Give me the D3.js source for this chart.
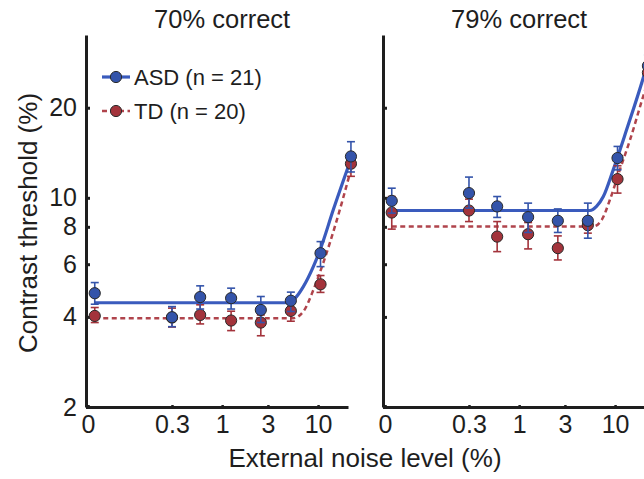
<!DOCTYPE html>
<html>
<head>
<meta charset="utf-8">
<script src="https://cdn.jsdelivr.net/npm/d3@7"></script>
<style>
  html, body { margin: 0; padding: 0; background: #fff; }
  svg { display: block; font-family: "Liberation Sans", Arial, Helvetica, sans-serif; }
</style>
</head>
<body>
<svg id="chart" width="644" height="479"></svg>
<script>
// ---------- data ----------
const panelTitles = ["70% correct", "79% correct"];
const groups = ["ASD (n = 21)", "TD (n = 20)"];
// external noise levels (%); first entry is the "0" noise condition drawn at a nominal log position
const noiseLevels = [0.047, 0.3, 0.59, 1.24, 2.53, 5.2, 10.6, 22];

// 70% correct
const asd70 = [4.80, 3.99, 4.66, 4.62, 4.22, 4.53, 6.53, 13.75];
const asd70Hi = [5.21, 4.33, 5.08, 4.99, 4.68, 4.84, 7.14, 15.4];
const asd70Lo = [4.41, 3.71, 4.25, 4.25, 3.83, 4.17, 5.89, 12.2];
const td70 = [4.03, 3.98, 4.06, 3.89, 3.83, 4.19, 5.14, 13.0];
const td70Hi = [4.30, 4.28, 4.39, 4.18, 4.06, 4.47, 5.50, 14.0];
const td70Lo = [3.83, 3.70, 3.79, 3.60, 3.46, 3.87, 4.83, 11.8];

// 79% correct
const asd79 = [9.77, 10.37, 9.36, 8.62, 8.38, 8.38, 13.58, 27.6];
const asd79Hi = [10.77, 11.73, 10.1, 9.6, 9.18, 9.6, 14.85, 30.0];
const asd79Lo = [8.89, 9.24, 8.6, 7.66, 7.66, 7.33, 12.4, 25.4];
const td79 = [8.93, 9.07, 7.42, 7.56, 6.79, 8.1, 11.55, 26.2];
const td79Hi = [10.1, 9.9, 8.33, 8.27, 7.46, 8.6, 12.8, 28.5];
const td79Lo = [7.86, 8.33, 6.61, 6.75, 6.2, 7.62, 10.37, 24.0];

// model fit curves: [noise, threshold]
const fitAsd70 = [[0.047, 4.46], [4.5, 4.46], [5.75, 4.62], [7.02, 5.05], [8.92, 5.89], [10.5, 6.70], [14.4, 9.12], [21.5, 13.2]];
const fitTd70  = [[0.047, 3.96], [5.47, 3.96], [7.02, 4.17], [8.92, 4.92], [11.3, 6.05], [15.7, 8.44], [21.5, 12.1]];
const fitAsd79 = [[0.047, 9.07], [5.47, 9.07], [6.4, 9.36], [7.54, 10.1], [9.56, 12.4], [13.2, 16.9], [19.6, 25.1], [22, 28.5]];
const fitTd79  = [[0.047, 8.02], [5.9, 8.02], [7.26, 8.44], [8.83, 9.85], [11.2, 12.4], [14.3, 15.6], [19.6, 21.8], [22, 24.5]];

const yTicks = [2, 4, 6, 8, 10, 20];
const yTickLabels = ["2", "4", "6", "8", "10", "20"];
const xTicks = [0.04, 0.3, 1, 3, 10];
const xTickLabels = ["0", "0.3", "1", "3", "10"];

const xTitle = "External noise level (%)";
const yTitle = "Contrast threshold (%)";

// ---------- styling ----------
const colors = { asd: "#3454aa", td: "#a3333b" };
const lineColors = { asd: "#3a5bbd", td: "#b0444c" };
const ink = "#1e1e1e";

const svg = d3.select("#chart");

const y = d3.scaleLog().domain([2, 35]).range([407, 35]);
const panelRanges = [[86, 348], [383, 645]];
const xDomain = [0.0381, 20.5];

const panels = [
  { title: panelTitles[0], asd: [asd70, asd70Lo, asd70Hi], td: [td70, td70Lo, td70Hi], fitA: fitAsd70, fitT: fitTd70, labels: true },
  { title: panelTitles[1], asd: [asd79, asd79Lo, asd79Hi], td: [td79, td79Lo, td79Hi], fitA: fitAsd79, fitT: fitTd79, labels: false }
];

const clip = svg.append("defs").append("clipPath").attr("id", "pageclip")
  .append("rect").attr("x", 0).attr("y", 0).attr("width", 644).attr("height", 479);

panels.forEach((p, i) => {
  const x = d3.scaleLog().domain(xDomain).range(panelRanges[i]);
  const g = svg.append("g").attr("clip-path", "url(#pageclip)");

  // title
  svg.append("text")
    .attr("x", x(1)).attr("y", 28)
    .attr("text-anchor", "middle")
    .attr("font-size", 25.5).attr("fill", ink)
    .text(p.title);

  // y axis
  const yAxis = d3.axisLeft(y).tickValues(yTicks)
    .tickSizeInner(-4).tickSizeOuter(0).tickPadding(9)
    .tickFormat((d, k) => p.labels ? yTickLabels[k] : "");
  const ya = g.append("g").attr("transform", `translate(${panelRanges[i][0]},0)`).call(yAxis);
  ya.select(".domain").attr("stroke", ink).attr("stroke-width", 3);
  ya.selectAll(".tick line").attr("stroke", ink).attr("stroke-width", 3);
  ya.selectAll(".tick text").attr("font-size", 25).attr("fill", ink).attr("font-family", null);

  // x axis
  const xAxis = d3.axisBottom(x).tickValues(xTicks)
    .tickSizeInner(-2).tickSizeOuter(0).tickPadding(8)
    .tickFormat((d, k) => xTickLabels[k]);
  const xa = g.append("g").attr("transform", `translate(0,${y(2)})`).call(xAxis);
  xa.select(".domain").attr("stroke", ink).attr("stroke-width", 3);
  xa.selectAll(".tick line").attr("stroke", ink).attr("stroke-width", 2.5);
  xa.selectAll(".tick text").attr("font-size", 25).attr("fill", ink).attr("font-family", null);

  // fit curves
  const line = d3.line().x(d => x(d[0])).y(d => y(d[1])).curve(d3.curveMonotoneX);
  g.append("path").datum(p.fitT).attr("d", line)
    .attr("fill", "none").attr("stroke", lineColors.td).attr("stroke-width", 2.5)
    .attr("stroke-dasharray", "5,3.5");
  g.append("path").datum(p.fitA).attr("d", line)
    .attr("fill", "none").attr("stroke", lineColors.asd).attr("stroke-width", 3.2);

  // points with error bars
  const drawGroup = (vals, col) => {
    const [m, lo, hi] = vals;
    const data = noiseLevels.map((n, k) => ({ n, m: m[k], lo: lo[k], hi: hi[k] }));
    const eg = g.append("g").attr("stroke", col).attr("stroke-width", 1.6).attr("fill", "none");
    data.forEach(d => {
      const cx = x(d.n);
      eg.append("line").attr("x1", cx).attr("x2", cx).attr("y1", y(d.lo)).attr("y2", y(d.hi));
      eg.append("line").attr("x1", cx - 4).attr("x2", cx + 4).attr("y1", y(d.lo)).attr("y2", y(d.lo));
      eg.append("line").attr("x1", cx - 4).attr("x2", cx + 4).attr("y1", y(d.hi)).attr("y2", y(d.hi));
    });
    g.append("g").selectAll("circle").data(data).join("circle")
      .attr("cx", d => x(d.n)).attr("cy", d => y(d.m)).attr("r", 5.6)
      .attr("fill", col).attr("stroke", "#2a2a2a").attr("stroke-width", 1);
  };
  drawGroup(p.td, colors.td);
  drawGroup(p.asd, colors.asd);
});

// legend
const leg = svg.append("g");
const legendItems = [
  { label: groups[0], col: colors.asd, lc: lineColors.asd, dash: null, w: 3.2, y: 77 },
  { label: groups[1], col: colors.td, lc: lineColors.td, dash: "5,3.5", w: 2.5, y: 111 }
];
legendItems.forEach(it => {
  leg.append("line").attr("x1", 102).attr("x2", 130).attr("y1", it.y).attr("y2", it.y)
    .attr("stroke", it.lc).attr("stroke-width", it.w).attr("stroke-dasharray", it.dash);
  leg.append("circle").attr("cx", 116).attr("cy", it.y).attr("r", 5.6)
    .attr("fill", it.col).attr("stroke", "#2a2a2a").attr("stroke-width", 1);
  leg.append("text").attr("x", 134).attr("y", it.y).attr("dy", "0.36em")
    .attr("font-size", 22).attr("fill", ink).text(it.label);
});

// axis titles
svg.append("text").attr("x", 365).attr("y", 467).attr("text-anchor", "middle")
  .attr("font-size", 26).attr("fill", ink).text(xTitle);
svg.append("text").attr("transform", "translate(37,223) rotate(-90)").attr("text-anchor", "middle")
  .attr("font-size", 26).attr("fill", ink).text(yTitle);
</script>
</body>
</html>
